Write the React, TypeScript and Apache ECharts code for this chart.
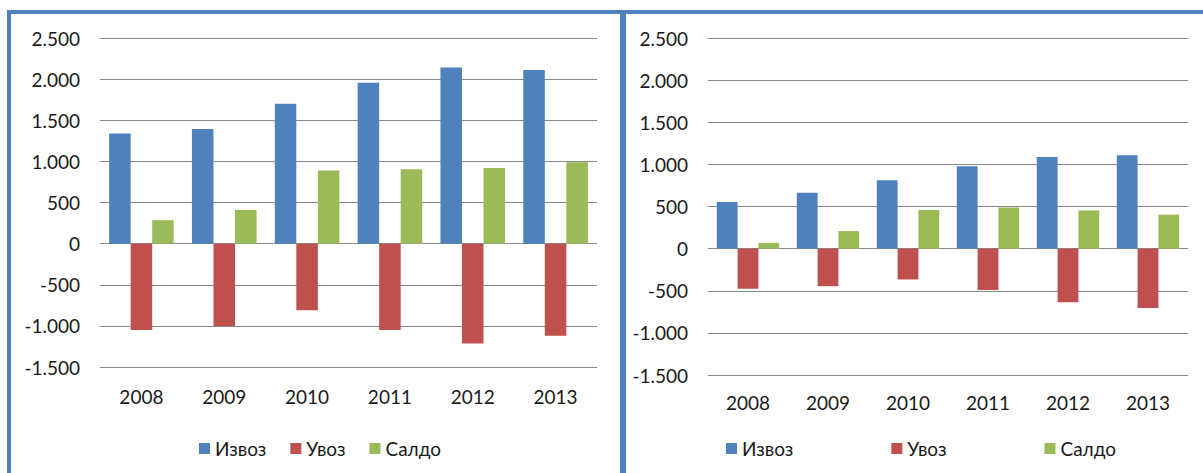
import React, { useEffect, useRef } from "react";
import * as echarts from "echarts";

const years = ["2008", "2009", "2010", "2011", "2012", "2013"];
const seriesNames = ["Извоз", "Увоз", "Салдо"];
const seriesColors = ["#4F81BD", "#C0504D", "#9BBB59"];

const leftExport = [1340, 1395, 1700, 1955, 2140, 2110];
const leftImport = [-1050, -1000, -810, -1050, -1215, -1120];
const leftBalance = [285, 410, 888, 905, 920, 990];

const rightExport = [555, 665, 815, 980, 1090, 1110];
const rightImport = [-475, -445, -365, -490, -635, -705];
const rightBalance = [70, 210, 460, 490, 455, 405];

const yTicks = [-1500, -1000, -500, 0, 500, 1000, 1500, 2000, 2500];

const FONT = "Lato, 'Open Sans', 'Noto Sans', sans-serif";
const FRAME = "#4F81BD";

function fmt(v: number): string {
  const s = Math.abs(v).toString().replace(/\B(?=(\d{3})+(?!\d))/g, ".");
  return (v < 0 ? "-" : "") + s;
}

export default function App() {
  const ref = useRef<HTMLDivElement>(null);

  useEffect(() => {
    if (!ref.current) return;
    const chart = echarts.init(ref.current, null, { renderer: "svg" });

    const yAxis = (gridIndex: number) => ({
      type: "value" as const,
      gridIndex,
      min: yTicks[0],
      max: yTicks[yTicks.length - 1],
      interval: 500,
      axisLine: { show: false },
      axisTick: { show: false },
      splitLine: { show: true, lineStyle: { color: "#888888", width: 1 } },
      axisLabel: {
        formatter: (v: number) => fmt(v),
        color: "#1a1a1a",
        fontFamily: FONT,
        fontSize: 19,
        margin: 20,
      },
    });

    const xAxis = (gridIndex: number, margin: number) => ({
      type: "category" as const,
      gridIndex,
      data: years,
      axisLine: { show: false, onZero: false },
      axisTick: { show: false },
      axisLabel: {
        color: "#1a1a1a",
        fontFamily: FONT,
        fontSize: 19,
        margin,
      },
    });

    const leftData = [leftExport, leftImport, leftBalance];
    const rightData = [rightExport, rightImport, rightBalance];

    const series: any[] = [];
    [leftData, rightData].forEach((group, gi) => {
      group.forEach((d, i) => {
        series.push({
          type: "bar",
          name: seriesNames[i],
          xAxisIndex: gi,
          yAxisIndex: gi,
          data: d,
          barGap: "0%",
          barCategoryGap: "22%",
          itemStyle: { color: seriesColors[i] },
        });
      });
    });

    const legendBase = {
      data: seriesNames,
      icon: "rect",
      itemWidth: 11,
      itemHeight: 11,
      top: 434,
      textStyle: { color: "#1a1a1a", fontFamily: FONT, fontSize: 19 },
      selectedMode: false as const,
    };

    chart.setOption({
      animation: false,
      backgroundColor: "#ffffff",
      grid: [
        { left: 100, top: 38, width: 497, height: 329 },
        { left: 708, top: 38.3, width: 480, height: 336.7 },
      ],
      xAxis: [xAxis(0, 20), xAxis(1, 18)],
      yAxis: [yAxis(0), yAxis(1)],
      legend: [
        { ...legendBase, left: 194, itemGap: 24 },
        { ...legendBase, left: 721, itemGap: 98 },
      ],
      series,
      graphic: [
        { type: "rect", shape: { x: 7, y: 10, width: 1196, height: 4 }, style: { fill: FRAME } },
        { type: "rect", shape: { x: 7, y: 10, width: 4, height: 463 }, style: { fill: FRAME } },
        { type: "rect", shape: { x: 620, y: 10, width: 6, height: 463 }, style: { fill: FRAME } },
      ],
    });

    return () => chart.dispose();
  }, []);

  return (
    <div
      ref={ref}
      style={{ position: "absolute", left: 0, top: 0, width: 1203, height: 473 }}
    />
  );
}
